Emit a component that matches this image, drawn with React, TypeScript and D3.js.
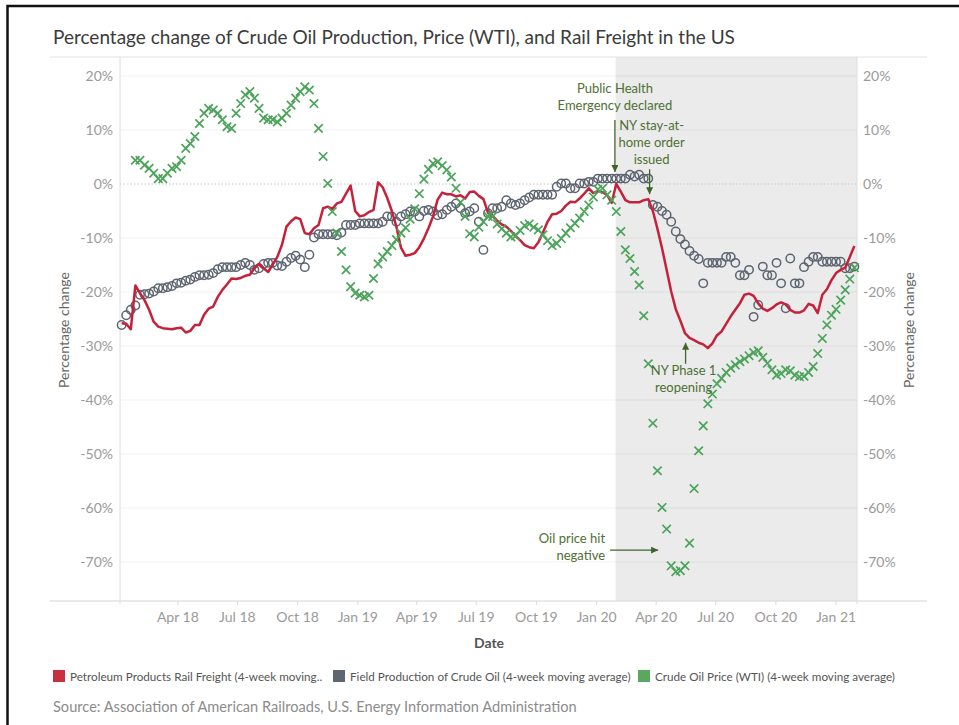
import * as d3 from 'd3'

// weekly values, first week ending Fri 5 Jan 2018
const firstWeek = new Date(2018, 0, 5)

const railFreight = [
  -25.8, -25.9, -26.9, -18.8, -20.2, -21.5, -23.3, -25.5, -26.4, -26.7,
  -26.8, -26.9, -26.7, -26.6, -27.5, -27.2, -26.1, -26.1, -24.2, -23.1,
  -22.7, -20.9, -19.6, -18.6, -17.5, -17.6, -17.4, -17.0, -16.8, -15.6,
  -14.8, -15.6, -16.3, -14.9, -13.5, -11.3, -7.9, -6.9, -6.2, -6.5,
  -9.1, -9.3, -8.2, -7.6, -4.5, -4.2, -4.6, -3.6, -3.3, -1.8,
  -0.3, -5.0, -6.0, -5.8, -5.2, -4.8, 0.3, -0.6, -2.6, -5.0,
  -7.9, -11.8, -13.3, -13.1, -12.8, -11.7, -10.1, -8.2, -6.0, -2.9,
  -1.6, -1.9, -1.9, -2.3, -2.1, -2.7, -1.5, -1.4, -2.2, -2.8,
  -5.3, -5.9, -6.8, -7.5, -7.9, -8.7, -9.6, -10.4, -11.3, -11.7,
  -11.9, -10.8, -9.0, -7.0, -5.6, -5.5, -5.0, -4.0, -3.3, -3.4,
  -2.7, -1.8, -0.8, -1.7, -1.3, -1.5, -2.0, -3.5, 0.0, -1.4,
  -3.0, -3.4, -3.4, -3.4, -3.0, -2.8, -5.0, -8.3, -11.9, -15.9,
  -19.9, -23.2, -25.3, -27.6, -28.5, -28.9, -29.4, -29.7, -30.4, -29.5,
  -28.0, -27.3, -25.9, -24.5, -23.3, -22.1, -20.5, -20.3, -20.7, -22.1,
  -23.1, -23.5, -23.0, -22.3, -21.9, -22.3, -23.3, -23.8, -23.8, -23.4,
  -22.2, -22.5, -23.9, -20.5, -19.5, -17.8, -16.5, -15.9, -15.5, -13.5,
  -11.5,
]

const crudeProduction = [
  -26.1, -24.3, -23.3, -22.5, -20.5, -20.4, -20.3, -19.9, -19.3, -19.3,
  -19.1, -18.9, -18.4, -18.3, -17.9, -17.7, -17.2, -16.9, -16.9, -16.8,
  -16.5, -15.8, -15.4, -15.4, -15.4, -15.4, -15.0, -14.6, -15.0, -15.9,
  -15.6, -14.8, -14.6, -14.6, -15.1, -15.2, -14.4, -13.7, -13.3, -14.0,
  -15.4, -13.1, -9.9, -9.3, -9.3, -9.3, -9.3, -9.5, -9.0, -7.6,
  -7.6, -7.6, -7.3, -7.3, -7.3, -7.3, -7.3, -7.0, -6.0, -6.0,
  -7.0, -6.0, -5.6, -5.1, -5.1, -6.0, -5.0, -4.8, -5.1, -5.8,
  -5.6, -4.8, -4.2, -3.6, -4.5, -5.4, -5.1, -4.5, -7.0, -12.2,
  -5.4, -4.5, -4.5, -4.2, -3.0, -3.6, -3.9, -3.6, -3.0, -2.5,
  -2.0, -2.0, -2.0, -2.0, -2.0, -0.5, 0.1, 0.1, -0.8, -0.8,
  0.1, 0.1, 0.4, 0.4, 1.0, 1.0, 1.0, 1.0, 1.0, 1.0,
  1.0, 1.7, 1.4, 1.7, 1.0, 1.0, -3.9, -4.2, -5.0, -5.7,
  -7.0, -8.8, -10.2, -11.2, -12.4, -13.3, -13.9, -18.4, -14.6, -14.6,
  -14.6, -14.6, -13.5, -13.5, -14.6, -16.9, -16.9, -15.9, -24.6, -22.4,
  -15.3, -16.9, -16.9, -14.6, -18.4, -23.0, -13.8, -18.4, -18.4, -15.4,
  -14.4, -13.5, -13.5, -14.4, -14.4, -14.4, -14.4, -14.4, -15.6, -15.6,
  -15.3,
]

const oilPrice = [
  null, null, null, 4.4, 4.4, 3.5, 2.9, 2.0, 1.0, 1.0,
  2.0, 2.9, 3.2, 4.4, 6.6, 7.5, 8.8, 11.2, 13.1, 14.0,
  13.7, 13.1, 11.9, 10.6, 10.3, 13.1, 14.9, 16.5, 17.1, 15.9,
  14.0, 12.2, 11.9, 11.9, 11.5, 12.2, 13.1, 14.6, 15.9, 17.1,
  18.0, 17.4, 14.9, 10.3, 5.1, 0.1, -5.1, -9.1, -12.5, -15.9,
  -19.0, -20.2, -20.6, -20.9, -20.6, -17.5, -14.8, -13.5, -12.5, -11.4,
  -10.3, -9.1, -8.1, -6.5, -4.6, -1.8, 0.9, 2.7, 3.8, 4.1,
  3.4, 2.6, 1.3, -0.8, -3.4, -6.0, -9.2, -9.8, -8.0, -7.0,
  -6.0, -6.0, -7.4, -8.3, -9.1, -9.8, -9.6, -8.6, -7.7, -7.4,
  -8.0, -8.5, -9.4, -10.5, -11.4, -11.0, -10.1, -9.1, -8.1, -7.3,
  -6.3, -5.1, -3.9, -2.4, -1.0, -0.8, -2.0, -3.0, -5.1, -8.8,
  -12.2, -13.8, -16.2, -18.7, -24.4, -33.3, -44.3, -53.1, -59.9, -63.9,
  -70.7, -71.8, -71.6, -70.7, -66.5, -56.4, -49.4, -44.8, -40.7, -38.9,
  -37.0, -36.0, -34.9, -34.1, -33.5, -32.9, -32.4, -31.8, -31.2, -30.9,
  -32.1, -33.2, -34.4, -35.4, -35.1, -34.4, -34.6, -35.4, -35.7, -35.6,
  -34.9, -33.8, -31.4, -28.6, -26.1, -24.3, -23.2, -21.5, -19.6, -17.6,
  -15.5,
]

const yTicks = [20, 10, 0, -10, -20, -30, -40, -50, -60, -70]
const seriesNames = [
  'Petroleum Products Rail Freight (4-week moving..',
  'Field Production of Crude Oil (4-week moving average)',
  'Crude Oil Price (WTI) (4-week moving average)',
]
const emergencyDate = new Date(2020, 0, 30)

const notes = [
  { lines: ['Public Health', 'Emergency declared'], date: new Date(2020, 0, 29), value: 2.2 },
  { lines: ['NY stay-at-', 'home order', 'issued'], date: new Date(2020, 2, 22), value: -1.9 },
  { lines: ['NY Phase 1', 'reopening'], date: new Date(2020, 4, 16), value: -29.4 },
  { lines: ['Oil price hit', 'negative'], date: new Date(2020, 3, 4), value: -67.8 },
]

const W = 959
const H = 725
const font = 'Lato, "Noto Sans", sans-serif'
const red = '#c5213a'
const slate = '#5c6470'
const green = '#4ca35a'
const noteColor = '#4d7033'

export default function App() {
  const dates = railFreight.map((_, i) => d3.timeDay.offset(firstWeek, 7 * i))
  const x = d3.scaleTime()
    .domain([new Date(2018, 0, 1), new Date(2021, 1, 2)])
    .range([119, 857])
  const y = d3.scaleLinear().domain([-70, 20]).range([562, 76])
  const left = 120, right = 857, top = 57, bottom = 601

  const xTicks = d3.timeMonth.every(3)!.range(new Date(2018, 3, 1), new Date(2021, 1, 1))
  const fmt = d3.timeFormat('%b %y')

  const railLine = d3.line<number>()
    .x((d, i) => x(dates[i]))
    .y(d => y(d))(railFreight)

  // arrow geometry for each note: tail offset and text offset from the tip
  const noteLayout = [
    { tail: [0, -52], text: [0, -79], anchor: 'middle' },
    { tail: [0, -25], text: [2, -64], anchor: 'middle' },
    { tail: [0, 21], text: [-2, 32], anchor: 'middle' },
    { tail: [-48, 0], text: [-53, -7.5], anchor: 'end' },
  ]

  return (
    <div style={{ position: 'absolute', left: 0, top: 0 }}>
      <svg width={W} height={H} style={{ display: 'block', fontFamily: font }}>
        <defs>
          <marker id="arr" viewBox="0 0 10 10" refX="10" refY="5" markerWidth="7" markerHeight="7"
            orient="auto" markerUnits="userSpaceOnUse">
            <path d="M0,0L10,5L0,10z" fill="#3f6328" />
          </marker>
        </defs>
        <rect x={0} y={0} width={W} height={H} fill="#fff" />
        <rect x={7.5} y={6} width={W + 20} height={H + 20} fill="none" stroke="#111" strokeWidth={2.5} />

        <text x={53} y={44} fontSize={19} fill="#3b3b3b">
          Percentage change of Crude Oil Production, Price (WTI), and Rail Freight in the US
        </text>

        {/* shaded covid period */}
        <rect x={x(emergencyDate)} y={top} width={right - x(emergencyDate)} height={bottom - top} fill="#ebebeb" />

        {/* gridlines */}
        {yTicks.map(t => (
          <line key={t} x1={left} x2={right} y1={y(t)} y2={y(t)}
            stroke={t === 0 ? '#c4c4c4' : '#000'} strokeOpacity={t === 0 ? 1 : 0.06}
            strokeDasharray={t === 0 ? '1.5,2' : undefined} />
        ))}

        <line x1={50} x2={927} y1={top} y2={top} stroke="#e2e2e2" />
        <line x1={50} x2={927} y1={bottom} y2={bottom} stroke="#d4d4d4" />
        <line x1={left} x2={left} y1={top} y2={bottom + 3} stroke="#dedede" />
        <line x1={right} x2={right} y1={top} y2={bottom + 3} stroke="#dedede" />

        {yTicks.map(t => (
          <g key={'l' + t} fontSize={14} fill="#9a9a9a">
            <text x={113} y={y(t) + 5} textAnchor="end">{t}%</text>
            <text x={863} y={y(t) + 5}>{t}%</text>
          </g>
        ))}

        {xTicks.map(d => (
          <g key={+d}>
            <line x1={x(d)} x2={x(d)} y1={bottom} y2={bottom + 4} stroke="#dcdcdc" />
            <text x={x(d)} y={622} textAnchor="middle" fontSize={14} fill="#9a9a9a">{fmt(d)}</text>
          </g>
        ))}

        <text x={489} y={648} textAnchor="middle" fontSize={14} fontWeight="bold" fill="#555">Date</text>
        <text transform="translate(69,330) rotate(-90)" textAnchor="middle" fontSize={14} fill="#666">Percentage change</text>
        <text transform="translate(914,330) rotate(-90)" textAnchor="middle" fontSize={14} fill="#666">Percentage change</text>

        {/* crude production circles */}
        {crudeProduction.map((v, i) => (
          <circle key={'c' + i} cx={x(dates[i])} cy={y(v)} r={4.2} fill="none" stroke={slate} strokeWidth={1.5} />
        ))}

        <path d={railLine ?? ''} fill="none" stroke={red} strokeWidth={2.5} strokeLinejoin="round" />

        {/* oil price crosses */}
        {oilPrice.map((v, i) => v === null ? null : (
          <path key={'x' + i} transform={`translate(${x(dates[i])},${y(v)})`}
            d="M-4.2,-4.2L4.2,4.2M-4.2,4.2L4.2,-4.2" stroke={green} strokeWidth={1.7} fill="none" />
        ))}

        {notes.map((n, k) => {
          const tx = x(n.date), ty = y(n.value)
          const L = noteLayout[k]
          return (
            <g key={'n' + k}>
              <line x1={tx + L.tail[0]} y1={ty + L.tail[1]} x2={tx} y2={ty} stroke="#3f6328" strokeWidth={1.3} markerEnd="url(#arr)" />
              {n.lines.map((s, j) => (
                <text key={j} x={tx + L.text[0]} y={ty + L.text[1] + j * 17} textAnchor={L.anchor}
                  fontSize={13} fill={noteColor}>{s}</text>
              ))}
            </g>
          )
        })}

        {/* legend */}
        {seriesNames.map((s, i) => {
          const lx = [53, 333, 638][i]
          return (
            <g key={s}>
              <rect x={lx} y={670} width={12} height={12} fill={['#c9303f', '#5f6672', '#58a85e'][i]} />
              <text x={lx + 17} y={680.5} fontSize={11.7} fill="#555">{s}</text>
            </g>
          )
        })}

        <text x={53} y={712} fontSize={14.6} fill="#8c8c8c">
          Source: Association of American Railroads, U.S. Energy Information Administration
        </text>
      </svg>
    </div>
  )
}
